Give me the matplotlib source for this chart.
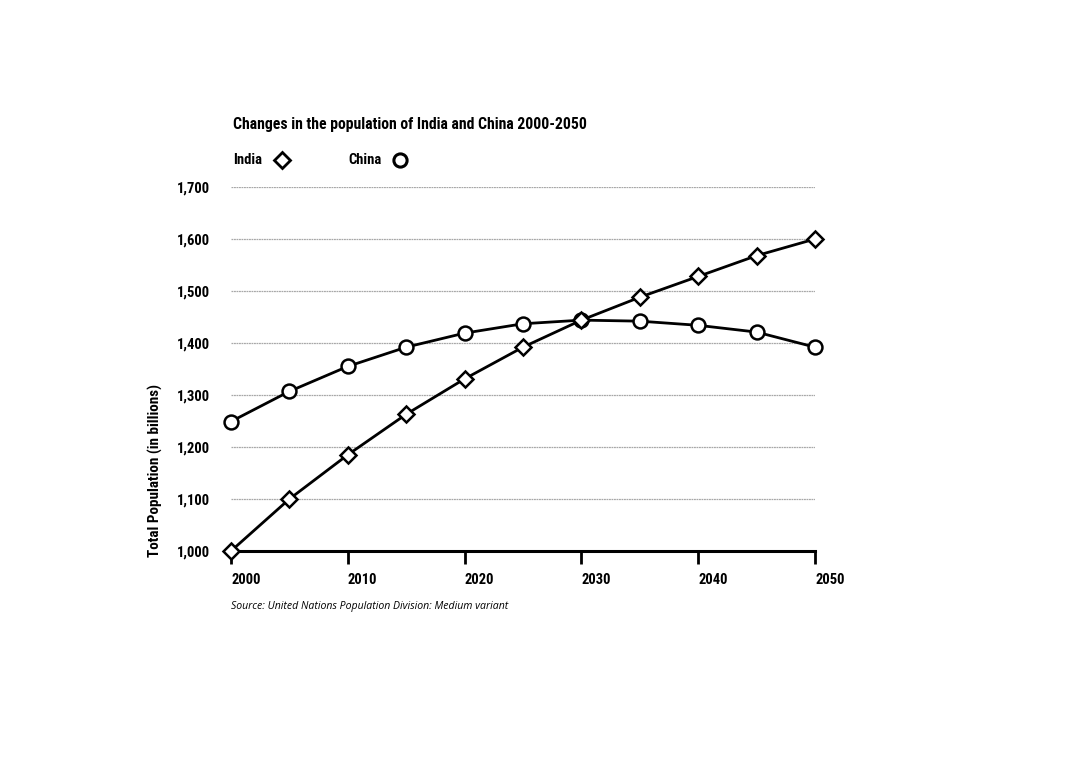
import matplotlib
matplotlib.use("Agg")
import matplotlib.pyplot as plt
from matplotlib.lines import Line2D

years = [2000, 2005, 2010, 2015, 2020, 2025, 2030, 2035, 2040, 2045, 2050]
india = [1000, 1100, 1185, 1263, 1331, 1392, 1444, 1488, 1528, 1568, 1600]
china = [1249, 1307, 1355, 1392, 1419, 1437, 1444, 1442, 1434, 1421, 1392]
yticks = [1000, 1100, 1200, 1300, 1400, 1500, 1600, 1700]
xticks = [2000, 2010, 2020, 2030, 2040, 2050]

FAM = ["Roboto Condensed", "DejaVu Sans"]

fig = plt.figure(figsize=(10.8, 7.78), dpi=100)
ax = fig.add_axes([231/1080, 1-551/778, 584/1080, 364/778])

for y in yticks[1:]:
    ax.axhline(y, color="#a8a8a8", lw=0.9, ls=(0, (1.5, 0.5)), zorder=1)

lkw = dict(color="black", lw=2.0, markersize=10, markeredgewidth=1.8,
           markerfacecolor="white", markeredgecolor="black", clip_on=False, zorder=3)
ax.plot(years, china, marker="o", **lkw)
ax.plot(years, india, marker="D", **{**lkw, "markersize": 8})

ax.set_xlim(2000, 2050)
ax.set_ylim(1000, 1700)
for s in ["left", "right", "top"]:
    ax.spines[s].set_visible(False)
ax.spines["bottom"].set_linewidth(2.2)
ax.set_xticks(xticks)
ax.set_xticklabels([str(x) for x in xticks], fontweight="bold", fontsize=10.5, family=FAM, ha="left")
ax.set_yticks(yticks)
ax.set_yticklabels([f"{y:,}" for y in yticks], fontweight="bold", fontsize=10.5, family=FAM)
ax.tick_params(axis="x", direction="out", length=9, width=2, pad=7)
ax.tick_params(axis="y", length=0, pad=15)

fig.text(233/1080, 1-125/778, "Changes in the population of India and China 2000-2050",
         fontsize=11.3, fontweight="bold", va="center", ha="left", family=FAM)
fig.text(233/1080, 1-160/778, "India", fontsize=10.5, fontweight="bold", va="center", ha="left", family=FAM)
fig.text(348/1080, 1-160/778, "China", fontsize=10.5, fontweight="bold", va="center", ha="left", family=FAM)
fig.add_artist(Line2D([282/1080], [1-160/778], marker="D", markersize=8, markeredgewidth=2,
                      markerfacecolor="white", markeredgecolor="black", transform=fig.transFigure))
fig.add_artist(Line2D([400/1080], [1-160/778], marker="o", markersize=9.5, markeredgewidth=2.2,
                      markerfacecolor="white", markeredgecolor="black", transform=fig.transFigure))

fig.text(155/1080, 1-557/778, "Total Population (in billions)", rotation=90,
         fontsize=10.9, fontweight="bold", ha="center", va="bottom", family=FAM)
fig.text(231/1080, 1-607/778, "Source: United Nations Population Division: Medium variant",
         fontsize=7.6, style="italic", ha="left", va="center", family=["Open Sans", "DejaVu Sans"])

fig.savefig("out.png", dpi=100, facecolor="white")
